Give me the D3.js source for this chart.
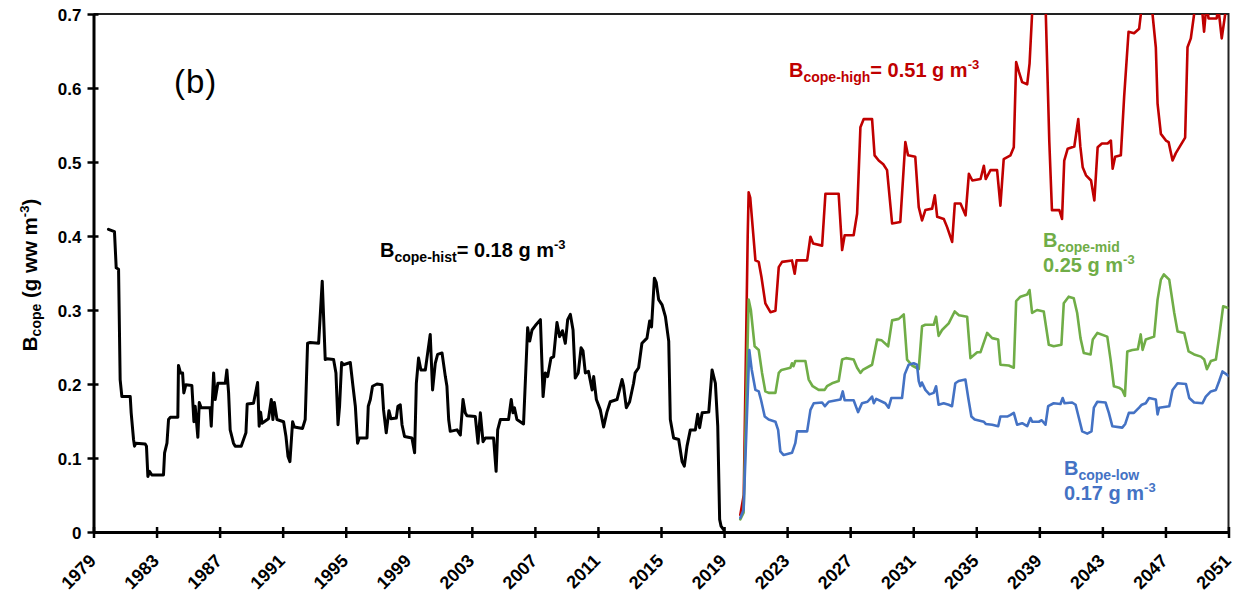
<!DOCTYPE html>
<html>
<head>
<meta charset="utf-8">
<script src="https://cdn.jsdelivr.net/npm/d3@7"></script>
<style>
  html, body { margin: 0; padding: 0; background: #fff; }
  svg { display: block; font-family: "Liberation Sans", Arial, sans-serif; }
</style>
</head>
<body>
<svg id="chart" width="1236" height="596"></svg>
<script>
// Copepod biomass (g ww m^-3): historical record and three projections
const hist = [
  [1979.95,0.409],[1980.33,0.406],[1980.44,0.357],[1980.59,0.355],[1980.69,0.206],[1980.80,0.183],[1981.33,0.183],[1981.39,0.161],[1981.54,0.125],[1981.60,0.116],[1981.69,0.120],[1982.28,0.119],[1982.36,0.116],[1982.45,0.075],[1982.55,0.082],[1982.70,0.077],[1983.44,0.077],[1983.51,0.107],[1983.66,0.120],[1983.76,0.152],[1983.87,0.155],[1984.35,0.155],[1984.39,0.225],[1984.52,0.215],[1984.65,0.215],[1984.73,0.188],[1984.86,0.199],[1985.24,0.198],[1985.37,0.149],[1985.45,0.170],[1985.62,0.128],[1985.71,0.175],[1985.83,0.168],[1986.40,0.168],[1986.47,0.143],[1986.62,0.215],[1986.72,0.179],[1986.89,0.201],[1987.36,0.201],[1987.46,0.219],[1987.57,0.188],[1987.67,0.138],[1987.88,0.120],[1987.99,0.116],[1988.37,0.116],[1988.52,0.125],[1988.67,0.134],[1988.75,0.173],[1989.15,0.174],[1989.41,0.202],[1989.51,0.143],[1989.60,0.162],[1989.69,0.147],[1990.10,0.153],[1990.28,0.179],[1990.38,0.152],[1990.47,0.175],[1990.64,0.152],[1991.06,0.149],[1991.21,0.129],[1991.34,0.102],[1991.46,0.095],[1991.63,0.149],[1991.74,0.142],[1992.26,0.140],[1992.43,0.152],[1992.58,0.255],[1992.75,0.256],[1993.28,0.255],[1993.51,0.339],[1993.70,0.233],[1993.81,0.234],[1994.23,0.233],[1994.38,0.215],[1994.51,0.145],[1994.61,0.170],[1994.74,0.229],[1994.86,0.226],[1995.29,0.229],[1995.46,0.197],[1995.61,0.170],[1995.75,0.120],[1995.86,0.127],[1996.35,0.127],[1996.43,0.170],[1996.56,0.179],[1996.70,0.197],[1996.98,0.200],[1997.30,0.199],[1997.40,0.165],[1997.57,0.134],[1997.74,0.164],[1997.87,0.153],[1998.21,0.154],[1998.31,0.170],[1998.46,0.172],[1998.57,0.145],[1998.73,0.129],[1999.20,0.127],[1999.37,0.107],[1999.48,0.201],[1999.62,0.235],[1999.77,0.219],[2000.05,0.219],[2000.36,0.267],[2000.51,0.192],[2000.68,0.228],[2000.83,0.240],[2001.11,0.242],[2001.32,0.210],[2001.42,0.197],[2001.53,0.152],[2001.63,0.136],[2002.06,0.138],[2002.27,0.131],[2002.44,0.179],[2002.58,0.161],[2002.69,0.157],[2003.22,0.156],[2003.39,0.120],[2003.54,0.161],[2003.71,0.122],[2003.86,0.127],[2004.38,0.127],[2004.54,0.082],[2004.64,0.138],[2004.81,0.152],[2005.33,0.152],[2005.50,0.179],[2005.61,0.161],[2005.70,0.168],[2005.86,0.152],[2006.28,0.146],[2006.54,0.276],[2006.67,0.258],[2006.82,0.273],[2007.03,0.279],[2007.35,0.287],[2007.52,0.183],[2007.66,0.215],[2007.81,0.210],[2008.02,0.235],[2008.19,0.237],[2008.40,0.283],[2008.57,0.264],[2008.75,0.272],[2008.93,0.255],[2009.08,0.287],[2009.25,0.294],[2009.42,0.273],[2009.56,0.208],[2009.75,0.215],[2009.93,0.249],[2010.05,0.245],[2010.20,0.215],[2010.40,0.217],[2010.63,0.192],[2010.73,0.210],[2010.90,0.179],[2011.15,0.165],[2011.36,0.142],[2011.57,0.162],[2011.78,0.176],[2012.21,0.179],[2012.53,0.206],[2012.62,0.198],[2012.80,0.168],[2013.01,0.176],[2013.26,0.201],[2013.36,0.215],[2013.58,0.222],[2013.79,0.255],[2014.11,0.262],[2014.28,0.285],[2014.40,0.277],[2014.58,0.343],[2014.70,0.337],[2014.85,0.314],[2015.07,0.307],[2015.28,0.291],[2015.49,0.258],[2015.59,0.152],[2015.80,0.127],[2016.12,0.125],[2016.34,0.095],[2016.48,0.089],[2016.65,0.116],[2016.86,0.138],[2017.18,0.138],[2017.33,0.159],[2017.45,0.141],[2017.61,0.161],[2018.03,0.162],[2018.24,0.219],[2018.45,0.201],[2018.60,0.143],[2018.72,0.017],[2018.81,0.008],[2018.98,0.003]
];

const high = [
  [2020.03,0.023],[2020.25,0.05],[2020.50,0.40],[2020.56,0.459],[2020.66,0.452],[2020.99,0.367],[2021.20,0.365],[2021.37,0.345],[2021.62,0.309],[2021.94,0.297],[2022.26,0.299],[2022.47,0.358],[2022.68,0.365],[2023.31,0.367],[2023.48,0.349],[2023.60,0.367],[2024.27,0.367],[2024.48,0.399],[2024.65,0.390],[2025.22,0.387],[2025.43,0.457],[2026.27,0.457],[2026.49,0.381],[2026.65,0.401],[2027.22,0.401],[2027.44,0.430],[2027.65,0.547],[2027.86,0.558],[2028.39,0.558],[2028.55,0.509],[2028.81,0.502],[2029.10,0.497],[2029.34,0.489],[2029.66,0.417],[2030.18,0.419],[2030.50,0.527],[2030.67,0.509],[2031.13,0.507],[2031.35,0.439],[2031.56,0.421],[2031.77,0.435],[2032.20,0.437],[2032.37,0.455],[2032.52,0.426],[2032.94,0.423],[2033.15,0.412],[2033.47,0.392],[2033.64,0.444],[2034.00,0.444],[2034.32,0.428],[2034.53,0.484],[2034.75,0.475],[2035.27,0.477],[2035.48,0.495],[2035.60,0.477],[2035.90,0.489],[2036.32,0.489],[2036.53,0.441],[2036.74,0.504],[2037.17,0.509],[2037.38,0.520],[2037.53,0.635],[2037.70,0.622],[2037.91,0.608],[2038.23,0.605],[2038.38,0.633],[2038.54,0.70],[2038.70,0.76],[2039.20,0.76],[2039.41,0.70],[2039.63,0.529],[2039.80,0.435],[2040.27,0.435],[2040.44,0.423],[2040.58,0.502],[2040.80,0.518],[2041.22,0.521],[2041.47,0.558],[2041.60,0.521],[2041.75,0.493],[2041.96,0.482],[2042.28,0.475],[2042.49,0.448],[2042.70,0.520],[2042.97,0.525],[2043.33,0.525],[2043.54,0.529],[2043.65,0.491],[2043.81,0.507],[2044.17,0.509],[2044.38,0.588],[2044.66,0.676],[2045.01,0.674],[2045.33,0.680],[2045.44,0.70],[2045.60,0.75],[2046.00,0.75],[2046.18,0.70],[2046.39,0.655],[2046.50,0.579],[2046.71,0.538],[2047.03,0.529],[2047.20,0.527],[2047.45,0.502],[2047.66,0.512],[2048.25,0.533],[2048.40,0.655],[2048.61,0.667],[2048.82,0.70],[2049.00,0.74],[2049.30,0.74],[2049.35,0.70],[2049.45,0.676],[2049.55,0.70],[2049.65,0.71],[2049.73,0.694],[2050.25,0.694],[2050.35,0.71],[2050.57,0.667],[2050.79,0.70],[2051.00,0.72]
];

const mid = [
  [2020.03,0.017],[2020.24,0.026],[2020.56,0.314],[2020.70,0.300],[2020.94,0.251],[2021.20,0.246],[2021.41,0.215],[2021.62,0.190],[2021.83,0.188],[2022.26,0.188],[2022.47,0.215],[2022.64,0.219],[2023.21,0.222],[2023.31,0.228],[2023.40,0.224],[2023.52,0.231],[2024.16,0.231],[2024.37,0.206],[2024.62,0.197],[2025.00,0.192],[2025.38,0.192],[2025.53,0.197],[2025.85,0.201],[2026.27,0.204],[2026.49,0.233],[2026.74,0.235],[2027.22,0.233],[2027.44,0.222],[2027.65,0.215],[2027.80,0.219],[2028.39,0.226],[2028.71,0.260],[2029.00,0.259],[2029.41,0.251],[2029.66,0.286],[2030.08,0.288],[2030.40,0.294],[2030.61,0.233],[2030.93,0.225],[2031.35,0.220],[2031.56,0.278],[2031.77,0.280],[2032.30,0.280],[2032.45,0.291],[2032.61,0.265],[2032.83,0.273],[2033.25,0.282],[2033.63,0.298],[2033.90,0.293],[2034.42,0.291],[2034.63,0.235],[2035.06,0.243],[2035.27,0.243],[2035.69,0.269],[2036.01,0.262],[2036.39,0.260],[2036.53,0.226],[2037.06,0.225],[2037.38,0.222],[2037.53,0.312],[2037.80,0.318],[2038.23,0.321],[2038.38,0.327],[2038.54,0.296],[2038.86,0.300],[2039.28,0.298],[2039.60,0.253],[2039.91,0.251],[2040.40,0.253],[2040.55,0.309],[2040.86,0.318],[2041.18,0.316],[2041.40,0.296],[2041.61,0.262],[2041.82,0.242],[2042.25,0.240],[2042.39,0.260],[2042.68,0.269],[2043.31,0.264],[2043.52,0.233],[2043.73,0.197],[2044.05,0.195],[2044.26,0.192],[2044.43,0.184],[2044.58,0.244],[2044.90,0.246],[2045.25,0.247],[2045.43,0.267],[2045.55,0.246],[2045.75,0.260],[2046.28,0.264],[2046.50,0.314],[2046.71,0.341],[2046.90,0.348],[2047.24,0.341],[2047.56,0.296],[2047.77,0.271],[2048.19,0.269],[2048.47,0.244],[2048.82,0.240],[2049.25,0.237],[2049.46,0.233],[2049.63,0.220],[2049.88,0.231],[2050.20,0.233],[2050.41,0.264],[2050.66,0.305],[2050.94,0.303]
];

const low = [
  [2020.03,0.019],[2020.24,0.030],[2020.60,0.246],[2020.75,0.220],[2020.99,0.192],[2021.20,0.190],[2021.35,0.178],[2021.58,0.156],[2021.83,0.152],[2022.26,0.149],[2022.43,0.138],[2022.57,0.109],[2022.78,0.104],[2023.31,0.107],[2023.52,0.120],[2023.63,0.136],[2024.27,0.136],[2024.48,0.165],[2024.69,0.174],[2025.22,0.175],[2025.40,0.170],[2025.64,0.176],[2026.38,0.179],[2026.53,0.190],[2026.65,0.178],[2027.22,0.178],[2027.50,0.162],[2027.75,0.174],[2028.10,0.176],[2028.39,0.183],[2028.50,0.174],[2028.65,0.180],[2029.23,0.174],[2029.44,0.168],[2029.61,0.181],[2030.29,0.181],[2030.46,0.213],[2030.71,0.226],[2031.03,0.228],[2031.24,0.226],[2031.35,0.204],[2031.45,0.197],[2031.55,0.202],[2031.77,0.192],[2032.03,0.186],[2032.30,0.188],[2032.45,0.197],[2032.61,0.172],[2032.93,0.174],[2033.25,0.172],[2033.46,0.170],[2033.67,0.201],[2033.88,0.204],[2034.31,0.206],[2034.50,0.180],[2034.69,0.156],[2034.90,0.152],[2035.48,0.149],[2035.60,0.146],[2036.01,0.145],[2036.39,0.143],[2036.53,0.156],[2036.96,0.156],[2037.15,0.158],[2037.38,0.161],[2037.59,0.145],[2037.91,0.147],[2038.23,0.143],[2038.44,0.154],[2038.55,0.149],[2038.97,0.149],[2039.15,0.151],[2039.39,0.145],[2039.56,0.170],[2039.91,0.174],[2040.34,0.173],[2040.48,0.181],[2040.60,0.174],[2041.08,0.175],[2041.30,0.172],[2041.51,0.154],[2041.72,0.136],[2042.04,0.133],[2042.31,0.136],[2042.46,0.168],[2042.68,0.176],[2043.20,0.175],[2043.41,0.161],[2043.63,0.143],[2044.26,0.141],[2044.45,0.146],[2044.68,0.161],[2045.00,0.161],[2045.33,0.168],[2045.50,0.172],[2045.75,0.174],[2045.96,0.181],[2046.39,0.179],[2046.50,0.159],[2046.60,0.168],[2047.24,0.170],[2047.45,0.192],[2047.77,0.201],[2048.30,0.200],[2048.51,0.181],[2048.82,0.175],[2049.35,0.174],[2049.56,0.183],[2049.88,0.190],[2050.20,0.192],[2050.41,0.204],[2050.62,0.217],[2051.00,0.211]
];

const xTickYears = d3.range(1979, 2052, 4);
const yTickValues = [0, 0.1, 0.2, 0.3, 0.4, 0.5, 0.6, 0.7];

const seriesColors = { hist: "#000000", high: "#C00000", mid: "#70AD47", low: "#4472C4" };

const svg = d3.select("#chart");
const plot = { left: 93.5, right: 1228.5, top: 14, bottom: 532 };

const x = d3.scaleLinear().domain([1979, 2051]).range([plot.left, plot.right]);
const y = d3.scaleLinear().domain([0, 0.7]).range([plot.bottom, plot.top]);

// clip lines to the plotting area
svg.append("defs").append("clipPath").attr("id", "plot-clip")
  .append("rect")
  .attr("x", plot.left).attr("y", plot.top)
  .attr("width", plot.right - plot.left).attr("height", plot.bottom - plot.top);

// frame: thin top and right borders
svg.append("path")
  .attr("d", `M${plot.left},${plot.top}H${plot.right}V${plot.bottom}`)
  .attr("fill", "none").attr("stroke", "#222").attr("stroke-width", 2);

const line = d3.line().x(d => x(d[0])).y(d => y(d[1]));

const lines = svg.append("g").attr("clip-path", "url(#plot-clip)");
[["hist", hist, 3], ["high", high, 2.6], ["mid", mid, 2.6], ["low", low, 2.6]].forEach(([key, data, w]) => {
  lines.append("path")
    .datum(data)
    .attr("d", line)
    .attr("fill", "none")
    .attr("stroke", seriesColors[key])
    .attr("stroke-width", w)
    .attr("stroke-linejoin", "round")
    .attr("stroke-linecap", "round");
});

// x axis
const xAxis = svg.append("g")
  .attr("transform", `translate(0,${plot.bottom})`)
  .call(d3.axisBottom(x).tickValues(xTickYears).tickFormat(d3.format("d")).tickSizeOuter(0));
xAxis.select(".domain").attr("stroke", "#000").attr("stroke-width", 3);
xAxis.selectAll(".tick line").attr("y1", -5).attr("y2", 6).attr("stroke", "#000").attr("stroke-width", 2.5);
xAxis.selectAll(".tick text")
  .attr("font-family", "'Liberation Sans', Arial, sans-serif")
  .attr("font-size", 18).attr("font-weight", "bold").attr("fill", "#000")
  .attr("text-anchor", "end")
  .attr("y", 0).attr("dy", 0)
  .attr("transform", "translate(3,30) rotate(-45)");

// y axis
const yAxis = svg.append("g")
  .attr("transform", `translate(${plot.left},0)`)
  .call(d3.axisLeft(y).tickValues(yTickValues).tickFormat(d => d === 0 ? "0" : d3.format(".1f")(d)).tickSizeOuter(0));
yAxis.select(".domain").attr("stroke", "#000").attr("stroke-width", 3);
yAxis.selectAll(".tick line").attr("x1", -6).attr("x2", 5).attr("stroke", "#000").attr("stroke-width", 2.5);
yAxis.selectAll(".tick text")
  .attr("font-family", "'Liberation Sans', Arial, sans-serif")
  .attr("font-size", 17).attr("font-weight", "bold").attr("fill", "#000")
  .attr("x", -12).attr("dy", "0.36em");

// y axis title
const yTitle = svg.append("text")
  .attr("transform", "translate(37,275) rotate(-90)")
  .attr("text-anchor", "middle")
  .attr("font-size", 20.5).attr("font-weight", "bold").attr("fill", "#000");
yTitle.append("tspan").text("B");
yTitle.append("tspan").attr("font-size", 14).attr("dy", 4).text("cope");
yTitle.append("tspan").attr("dy", -4).text(" (g ww m");
yTitle.append("tspan").attr("font-size", 13).attr("dy", -8).text("-3");
yTitle.append("tspan").attr("dy", 8).text(")");

// panel label
svg.append("text").attr("x", 174).attr("y", 93)
  .attr("font-size", 33).attr("letter-spacing", 1).attr("fill", "#000").text("(b)");

// series annotation: "B" with a subscript, then the mean value (inline or on a second line)
function annotate(px, py, color, sub, value, twoLines) {
  const t = svg.append("text").attr("x", px).attr("y", py)
    .attr("font-size", 20).attr("font-weight", "bold").attr("fill", color);
  t.append("tspan").text("B");
  t.append("tspan").attr("font-size", 14).attr("dy", 5).text(sub);
  if (twoLines) {
    const t2 = svg.append("text").attr("x", px).attr("y", py + 25)
      .attr("font-size", 20).attr("font-weight", "bold").attr("fill", color);
    t2.append("tspan").text(value + " g m");
    t2.append("tspan").attr("font-size", 13).attr("dy", -8).text("-3");
  } else {
    t.append("tspan").attr("dy", -5).text("= " + value + " g m");
    t.append("tspan").attr("font-size", 13).attr("dy", -8).text("-3");
  }
}
annotate(380, 257, seriesColors.hist, "cope-hist", "0.18", false);
annotate(789, 77, seriesColors.high, "cope-high", "0.51", false);
annotate(1043, 247, seriesColors.mid, "cope-mid", "0.25", true);
annotate(1064, 475, seriesColors.low, "cope-low", "0.17", true);
</script>
</body>
</html>
